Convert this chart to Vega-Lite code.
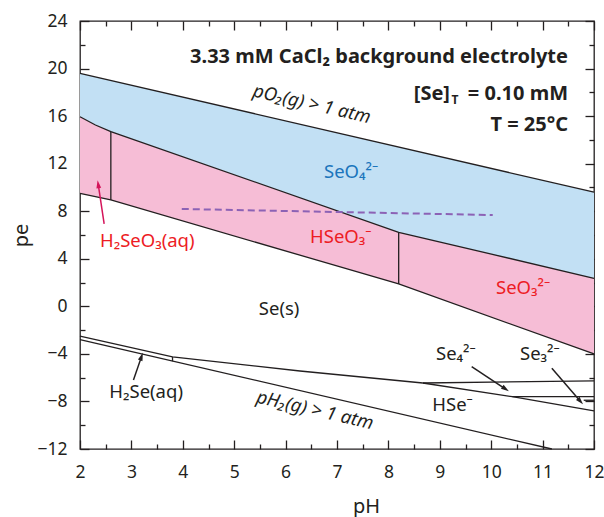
{
  "$schema": "https://vega.github.io/schema/vega-lite/v6.json",
  "width": 514,
  "height": 428,
  "autosize": {"type": "none"},
  "padding": {"left": 80, "top": 21, "right": 10, "bottom": 68},
  "config": {
    "view": {"stroke": "#231f20", "strokeWidth": 1.3},
    "axis": {"grid": false, "domain": false, "ticks": true, "tickColor": "#231f20", "tickWidth": 1.3, "tickOpacity": 1, "zindex": 2, "labelFont": "Noto Sans", "labelFontSize": 17.5, "labelColor": "#231f20", "labelFlush": false, "labelOverlap": false, "titleFont": "Noto Sans", "titleFontSize": 20, "titleFontWeight": "normal", "titleColor": "#231f20"}
  },
  "datasets": {
    "areas": [
      {"r": "SeO4", "pH": 2, "top": 19.6, "bot": 15.95},
      {"r": "SeO4", "pH": 2.3, "top": 19.3, "bot": 15.25},
      {"r": "SeO4", "pH": 2.6, "top": 19.0, "bot": 14.7},
      {"r": "SeO4", "pH": 8.2, "top": 13.4, "bot": 6.23},
      {"r": "SeO4", "pH": 12, "top": 9.6, "bot": 2.36},
      {"r": "SeO3", "pH": 2, "top": 15.95, "bot": 9.5},
      {"r": "SeO3", "pH": 2.3, "top": 15.25, "bot": 9.22},
      {"r": "SeO3", "pH": 2.6, "top": 14.7, "bot": 8.95},
      {"r": "SeO3", "pH": 8.2, "top": 6.23, "bot": 1.88},
      {"r": "SeO3", "pH": 12, "top": 2.36, "bot": -4.0}
    ],
    "lines": [
      {"s": "O2", "o": 1, "pH": 2, "pe": 19.6},
      {"s": "O2", "o": 2, "pH": 12, "pe": 9.6},
      {"s": "up", "o": 1, "pH": 2, "pe": 15.95},
      {"s": "up", "o": 2, "pH": 2.3, "pe": 15.25},
      {"s": "up", "o": 3, "pH": 2.6, "pe": 14.7},
      {"s": "up", "o": 4, "pH": 8.2, "pe": 6.23},
      {"s": "up", "o": 5, "pH": 12, "pe": 2.36},
      {"s": "lo", "o": 1, "pH": 2, "pe": 9.5},
      {"s": "lo", "o": 2, "pH": 2.6, "pe": 8.95},
      {"s": "lo", "o": 3, "pH": 8.2, "pe": 1.88},
      {"s": "lo", "o": 4, "pH": 12, "pe": -4.0},
      {"s": "v1", "o": 1, "pH": 2.6, "pe": 8.95},
      {"s": "v1", "o": 2, "pH": 2.6, "pe": 14.7},
      {"s": "v2", "o": 1, "pH": 8.2, "pe": 1.88},
      {"s": "v2", "o": 2, "pH": 8.2, "pe": 6.23},
      {"s": "H2", "o": 1, "pH": 2, "pe": -2.8},
      {"s": "H2", "o": 2, "pH": 11.18, "pe": -12},
      {"s": "Se", "o": 1, "pH": 2, "pe": -2.5},
      {"s": "Se", "o": 2, "pH": 3.8, "pe": -4.25},
      {"s": "Se", "o": 3, "pH": 6.28, "pe": -5.44},
      {"s": "Se", "o": 4, "pH": 8.67, "pe": -6.45},
      {"s": "v3", "o": 1, "pH": 3.8, "pe": -4.25},
      {"s": "v3", "o": 2, "pH": 3.8, "pe": -4.62},
      {"s": "Se4top", "o": 1, "pH": 8.67, "pe": -6.45},
      {"s": "Se4top", "o": 2, "pH": 12, "pe": -6.27},
      {"s": "HSe", "o": 1, "pH": 8.67, "pe": -6.45},
      {"s": "HSe", "o": 2, "pH": 10.41, "pe": -7.6},
      {"s": "HSe", "o": 3, "pH": 12, "pe": -8.8},
      {"s": "Se43", "o": 1, "pH": 10.41, "pe": -7.6},
      {"s": "Se43", "o": 2, "pH": 12, "pe": -7.6},
      {"s": "short", "o": 1, "pH": 11.8, "pe": -7.9},
      {"s": "short", "o": 2, "pH": 12, "pe": -7.9}
    ],
    "dash": [
      {"pH": 3.98, "pe": 8.19},
      {"pH": 10.03, "pe": 7.68}
    ],
    "arrows": [
      {"pH": 2.47, "pe": 6.93, "pH2": 2.354, "pe2": 10.27, "ang": 351.3, "c": "#d4145a"},
      {"pH": 3.04, "pe": -6.19, "pH2": 3.197, "pe2": -4.23, "ang": 19.4, "c": "#231f20"},
      {"pH": 9.62, "pe": -5.07, "pH2": 10.28, "pe2": -6.96, "ang": 123.6, "c": "#231f20"},
      {"pH": 11.18, "pe": -5.21, "pH2": 11.735, "pe2": -7.99, "ang": 139, "c": "#231f20"}
    ],
    "labels": [
      {"t": "SeO₄²⁻", "pH": 6.747, "pe": 10.8, "c": "#1b75bc"},
      {"t": "HSeO₃⁻", "pH": 6.475, "pe": 5.3, "c": "#ed1c24"},
      {"t": "SeO₃²⁻", "pH": 10.093, "pe": 1.04, "c": "#ed1c24"},
      {"t": "H₂SeO₃(aq)", "pH": 2.389, "pe": 5.0, "c": "#ed1c24"},
      {"t": "Se(s)", "pH": 5.48, "pe": -0.73, "c": "#231f20"},
      {"t": "H₂Se(aq)", "pH": 2.57, "pe": -7.73, "c": "#231f20"},
      {"t": "Se₄²⁻", "pH": 8.926, "pe": -4.51, "c": "#231f20"},
      {"t": "Se₃²⁻", "pH": 10.56, "pe": -4.51, "c": "#231f20"},
      {"t": "HSe⁻", "pH": 8.854, "pe": -8.8, "c": "#231f20"}
    ],
    "gas": [
      {"t": "pO₂(g) > 1 atm", "pH": 6.51, "pe": 17.02},
      {"t": "pH₂(g) > 1 atm", "pH": 6.57, "pe": -8.72}
    ],
    "titles": [
      {"t": "3.33 mM CaCl₂ background electrolyte", "pH": 11.494, "pe": 20.44},
      {"t": "= 0.10 mM", "pH": 11.494, "pe": 17.36},
      {"t": "T = 25°C", "pH": 11.494, "pe": 14.77}
    ],
    "se": [
      {"t": "[Se]", "pH": 9.198, "pe": 17.36}
    ],
    "sub": [
      {"t": "T", "pH": 9.227, "pe": 17.0}
    ]
  },
  "layer": [
    {
      "data": {"name": "areas"},
      "mark": {"type": "area", "opacity": 1},
      "encoding": {
        "x": {"field": "pH", "type": "quantitative", "scale": {"domain": [2, 12], "nice": false, "zero": false},
              "axis": {"orient": "bottom", "values": [2, 3, 4, 5, 6, 7, 8, 9, 10, 11, 12], "format": "d", "offset": -9, "tickSize": 9, "labelPadding": 14, "title": "pH", "titleX": 286, "titleY": 72, "titleBaseline": "alphabetic", "titleAnchor": "middle"}},
        "y": {"field": "top", "type": "quantitative", "stack": null, "scale": {"domain": [-12, 24], "nice": false, "zero": false},
              "axis": {"orient": "left", "values": [-12, -8, -4, 0, 4, 8, 12, 16, 20, 24], "format": "d", "offset": -9, "tickSize": 9, "labelPadding": 13, "title": "pe", "titleX": -62, "titleY": 214, "titleBaseline": "alphabetic", "titleAngle": 270}},
        "y2": {"field": "bot"},
        "color": {"field": "r", "type": "nominal", "scale": {"domain": ["SeO4", "SeO3"], "range": ["#c2e0f4", "#f6bdd6"]}, "legend": null}
      }
    },
    {
      "data": {"name": "lines"},
      "mark": {"type": "line", "color": "#231f20", "strokeWidth": 1.3},
      "encoding": {
        "x": {"field": "pH", "type": "quantitative", "scale": {"domain": [2, 12], "nice": false, "zero": false},
              "axis": {"orient": "bottom", "values": [2.5, 3.5, 4.5, 5.5, 6.5, 7.5, 8.5, 9.5, 10.5, 11.5], "offset": -5, "tickSize": 5, "labels": false, "title": null}},
        "y": {"field": "pe", "type": "quantitative", "scale": {"domain": [-12, 24], "nice": false, "zero": false},
              "axis": {"orient": "left", "values": [-10, -6, -2, 2, 6, 10, 14, 18, 22], "offset": -5, "tickSize": 5, "labels": false, "title": null}},
        "detail": {"field": "s"},
        "order": {"field": "o"}
      }
    },
    {
      "data": {"name": "dash"},
      "mark": {"type": "line", "color": "#8c62b5", "strokeWidth": 2, "strokeDash": [7, 4]},
      "encoding": {
        "x": {"field": "pH", "type": "quantitative", "scale": {"domain": [2, 12], "nice": false, "zero": false},
              "axis": {"orient": "top", "values": [2, 3, 4, 5, 6, 7, 8, 9, 10, 11, 12], "offset": -9, "tickSize": 9, "labels": false, "title": null}},
        "y": {"field": "pe", "type": "quantitative", "scale": {"domain": [-12, 24], "nice": false, "zero": false},
              "axis": {"orient": "right", "values": [-12, -8, -4, 0, 4, 8, 12, 16, 20, 24], "offset": -9, "tickSize": 9, "labels": false, "title": null}}
      }
    },
    {
      "data": {"name": "arrows"},
      "mark": {"type": "rule", "strokeWidth": 1.5},
      "encoding": {
        "x": {"field": "pH", "type": "quantitative", "scale": {"domain": [2, 12], "nice": false, "zero": false},
              "axis": {"orient": "top", "values": [2.5, 3.5, 4.5, 5.5, 6.5, 7.5, 8.5, 9.5, 10.5, 11.5], "offset": -5, "tickSize": 5, "labels": false, "title": null}},
        "y": {"field": "pe", "type": "quantitative", "scale": {"domain": [-12, 24], "nice": false, "zero": false},
              "axis": {"orient": "right", "values": [-10, -6, -2, 2, 6, 10, 14, 18, 22], "offset": -5, "tickSize": 5, "labels": false, "title": null}},
        "x2": {"field": "pH2"},
        "y2": {"field": "pe2"},
        "color": {"field": "c", "type": "nominal", "scale": null}
      }
    },
    {
      "data": {"name": "arrows"},
      "mark": {"type": "point", "shape": "M0,-1L-0.6,1L0.6,1Z", "filled": true, "size": 64, "opacity": 1},
      "encoding": {
        "x": {"field": "pH2", "type": "quantitative", "scale": {"domain": [2, 12], "nice": false, "zero": false}, "axis": null},
        "y": {"field": "pe2", "type": "quantitative", "scale": {"domain": [-12, 24], "nice": false, "zero": false}, "axis": null},
        "angle": {"field": "ang", "type": "quantitative", "scale": null},
        "color": {"field": "c", "type": "nominal", "scale": null}
      }
    },
    {
      "data": {"name": "labels"},
      "mark": {"type": "text", "align": "left", "baseline": "alphabetic", "font": "Noto Sans", "fontSize": 18.5},
      "encoding": {
        "x": {"field": "pH", "type": "quantitative", "scale": {"domain": [2, 12], "nice": false, "zero": false}, "axis": null},
        "y": {"field": "pe", "type": "quantitative", "scale": {"domain": [-12, 24], "nice": false, "zero": false}, "axis": null},
        "text": {"field": "t"},
        "color": {"field": "c", "type": "nominal", "scale": null}
      }
    },
    {
      "data": {"name": "gas"},
      "mark": {"type": "text", "align": "center", "baseline": "middle", "font": "Noto Sans", "fontSize": 18.5, "fontStyle": "italic", "angle": 13, "color": "#231f20"},
      "encoding": {
        "x": {"field": "pH", "type": "quantitative", "scale": {"domain": [2, 12], "nice": false, "zero": false}, "axis": null},
        "y": {"field": "pe", "type": "quantitative", "scale": {"domain": [-12, 24], "nice": false, "zero": false}, "axis": null},
        "text": {"field": "t"}
      }
    },
    {
      "data": {"name": "titles"},
      "mark": {"type": "text", "align": "right", "baseline": "alphabetic", "font": "Noto Sans", "fontSize": 20, "fontWeight": "bold", "color": "#231f20"},
      "encoding": {
        "x": {"field": "pH", "type": "quantitative", "scale": {"domain": [2, 12], "nice": false, "zero": false}, "axis": null},
        "y": {"field": "pe", "type": "quantitative", "scale": {"domain": [-12, 24], "nice": false, "zero": false}, "axis": null},
        "text": {"field": "t"}
      }
    },
    {
      "data": {"name": "se"},
      "mark": {"type": "text", "align": "right", "baseline": "alphabetic", "font": "Noto Sans", "fontSize": 20, "fontWeight": "bold", "color": "#231f20"},
      "encoding": {
        "x": {"field": "pH", "type": "quantitative", "scale": {"domain": [2, 12], "nice": false, "zero": false}, "axis": null},
        "y": {"field": "pe", "type": "quantitative", "scale": {"domain": [-12, 24], "nice": false, "zero": false}, "axis": null},
        "text": {"field": "t"}
      }
    },
    {
      "data": {"name": "sub"},
      "mark": {"type": "text", "align": "left", "baseline": "alphabetic", "font": "Noto Sans", "fontSize": 12, "fontWeight": "bold", "color": "#231f20"},
      "encoding": {
        "x": {"field": "pH", "type": "quantitative", "scale": {"domain": [2, 12], "nice": false, "zero": false}, "axis": null},
        "y": {"field": "pe", "type": "quantitative", "scale": {"domain": [-12, 24], "nice": false, "zero": false}, "axis": null},
        "text": {"field": "t"}
      }
    }
  ],
  "resolve": {"axis": {"x": "independent", "y": "independent"}}
}
